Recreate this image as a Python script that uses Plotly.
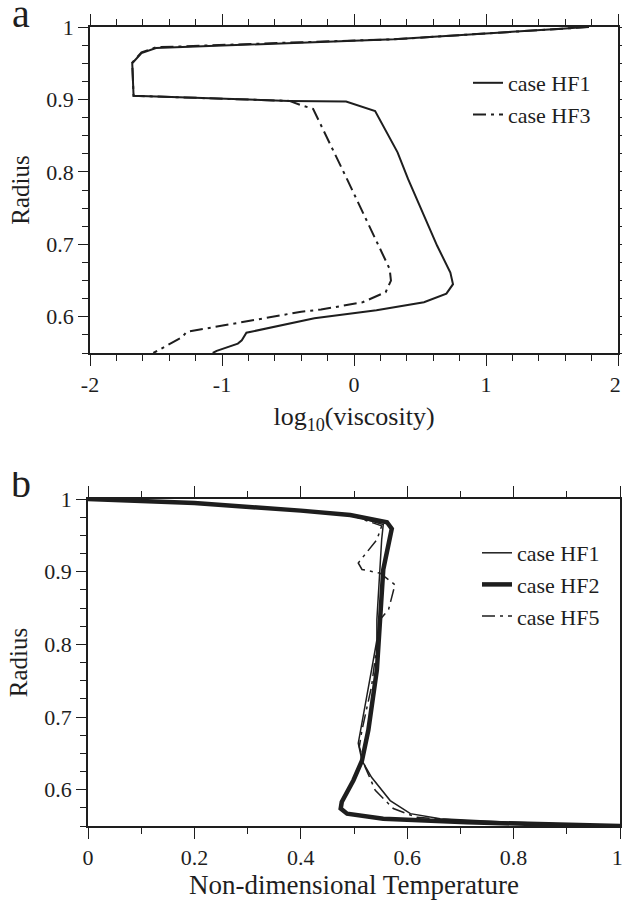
import plotly.graph_objects as go

# ---- panel a data: log10(viscosity) vs radius ----
a_hf1_visc = [1.76, 1.60, 0.30, -0.40, -1.50, -1.61, -1.68, -1.67, -0.49, -0.06, 0.16, 0.33, 0.41,
              0.63, 0.73, 0.75, 0.70, 0.53, 0.17, -0.30, -0.815, -0.85, -0.88, -1.04, -1.07]
a_hf1_rad = [1.000, 0.998, 0.983, 0.978, 0.971, 0.964, 0.950, 0.905, 0.898, 0.897, 0.884, 0.827, 0.790,
             0.698, 0.661, 0.645, 0.632, 0.620, 0.609, 0.598, 0.578, 0.5675, 0.563, 0.553, 0.550]

a_hf3_visc = [1.78, 1.60, 0.30, -0.40, -1.50, -1.61, -1.68, -1.67, -0.49, -0.40, -0.31, -0.05, 0.27,
              0.28, 0.24, 0.065, -0.25, -0.40, -1.27, -1.30, -1.48, -1.52]
a_hf3_rad = [1.000, 0.998, 0.983, 0.979, 0.972, 0.965, 0.951, 0.905, 0.898, 0.892, 0.887, 0.789, 0.666,
             0.650, 0.634, 0.620, 0.610, 0.607, 0.579, 0.572, 0.554, 0.550]

# ---- panel b data: non-dimensional temperature vs radius ----
b_hf1_temp = [0.0, 0.2, 0.4, 0.493, 0.555, 0.552, 0.543, 0.543, 0.533, 0.518, 0.508, 0.515, 0.533,
              0.568, 0.606, 0.662, 0.80, 1.0]
b_hf1_rad = [1.0, 0.9945, 0.984, 0.978, 0.965, 0.944, 0.834, 0.806, 0.765, 0.705, 0.664, 0.640, 0.617,
             0.585, 0.567, 0.560, 0.555, 0.550]

b_hf2_temp = [0.0, 0.2, 0.4, 0.493, 0.562, 0.571, 0.555, 0.549, 0.547, 0.543, 0.527, 0.515, 0.499,
              0.477, 0.475, 0.487, 0.555, 0.712, 1.0]
b_hf2_rad = [1.0, 0.9945, 0.984, 0.978, 0.968, 0.959, 0.903, 0.834, 0.806, 0.765, 0.682, 0.640, 0.613,
             0.583, 0.574, 0.567, 0.560, 0.555, 0.550]

b_hf5_temp = [0.0, 0.2, 0.4, 0.493, 0.552, 0.543, 0.508, 0.515, 0.549, 0.577, 0.565, 0.549, 0.533,
              0.515, 0.510, 0.521, 0.540, 0.574, 0.618, 0.75, 1.0]
b_hf5_rad = [1.0, 0.9945, 0.984, 0.978, 0.963, 0.944, 0.912, 0.903, 0.898, 0.882, 0.848, 0.834, 0.742,
             0.682, 0.659, 0.631, 0.599, 0.574, 0.562, 0.555, 0.550]

NB = "\u00a0"
a_xticks = [-2, -1, 0, 1, 2]
a_xtext = ["-2", "-1", "0", "1", "2" + NB]
b_xticks = [0, 0.2, 0.4, 0.6, 0.8, 1.0]
b_xtext = ["0", "0.2", "0.4", "0.6", "0.8", "1" + NB]
r_ticks = [0.6, 0.7, 0.8, 0.9, 1.0]
r_text = ["0.6", "0.7", "0.8", "0.9", "1"]

INK = "#1e1e1e"
SERIF = "Liberation Serif, Times New Roman, DejaVu Serif, serif"
DASHDOT = "13px,5px,3px,5px"

fig = go.Figure()
fig.add_trace(go.Scatter(x=a_hf1_visc, y=a_hf1_rad, mode="lines", name="case HF1",
                         line=dict(color=INK, width=2), xaxis="x", yaxis="y", legend="legend"))
fig.add_trace(go.Scatter(x=a_hf3_visc, y=a_hf3_rad, mode="lines", name="case HF3",
                         line=dict(color=INK, width=2, dash=DASHDOT), xaxis="x", yaxis="y", legend="legend"))
fig.add_trace(go.Scatter(x=b_hf1_temp, y=b_hf1_rad, mode="lines", name="case HF1",
                         line=dict(color=INK, width=1.5), xaxis="x2", yaxis="y2", legend="legend2"))
fig.add_trace(go.Scatter(x=b_hf2_temp, y=b_hf2_rad, mode="lines", name="case HF2",
                         line=dict(color=INK, width=4.5), xaxis="x2", yaxis="y2", legend="legend2"))
fig.add_trace(go.Scatter(x=b_hf5_temp, y=b_hf5_rad, mode="lines", name="case HF5",
                         line=dict(color=INK, width=1.5, dash=DASHDOT), xaxis="x2", yaxis="y2", legend="legend2"))

tickfont = dict(family=SERIF, size=22, color=INK)

def xax(domain, rng, tv, tt, dtick_minor, title, anchor, standoff, tsize):
    return dict(domain=domain, range=rng, anchor=anchor, tickvals=tv, ticktext=tt, automargin=False,
                ticklabeloverflow="allow",
                ticks="outside", ticklen=11, tickwidth=1.3, tickcolor=INK,
                minor=dict(dtick=dtick_minor, ticks="outside", ticklen=6, tickwidth=1.3, tickcolor=INK),
                showline=True, linecolor=INK, linewidth=1.5, mirror="allticks",
                showgrid=False, zeroline=False, tickfont=tickfont,
                title=dict(text=title, font=dict(family=SERIF, size=tsize, color=INK), standoff=standoff))

def yax(domain, anchor, standoff):
    return dict(domain=domain, range=[0.55, 1.0], anchor=anchor, tickvals=r_ticks, ticktext=r_text,
                automargin=False, ticklabeloverflow="allow",
                ticks="outside", ticklen=10, tickwidth=1.3, tickcolor=INK,
                minor=dict(dtick=0.025, tick0=0.55, ticks="outside", ticklen=6, tickwidth=1.3, tickcolor=INK),
                showline=True, linecolor=INK, linewidth=1.5, mirror="allticks",
                showgrid=False, zeroline=False, tickfont=tickfont,
                title=dict(text="Radius", font=dict(family=SERIF, size=25, color=INK), standoff=standoff))

legfont = dict(family=SERIF, size=22, color=INK)

fig.update_layout(
    width=622, height=902, margin=dict(l=0, r=0, t=0, b=0),
    paper_bgcolor="white", plot_bgcolor="white",
    xaxis=xax([90/622, 618/622], [-2, 2], a_xticks, a_xtext, 0.2, "log<sub>10</sub>(viscosity)", "y", 11, 26),
    yaxis=yax([(902-353)/902, (902-27)/902], "x", 10),
    xaxis2=xax([88/622, 620/622], [0, 1], b_xticks, b_xtext, 0.1, "Non-dimensional Temperature", "y2", 1, 27),
    yaxis2=yax([(902-826)/902, (902-499)/902], "x2", 10),
    legend=dict(x=468/622, y=(902-62)/902, xanchor="left", yanchor="top", font=legfont,
                bgcolor="rgba(0,0,0,0)", borderwidth=0, itemwidth=30),
    legend2=dict(x=477/622, y=(902-532)/902, xanchor="left", yanchor="top", font=legfont,
                 bgcolor="rgba(0,0,0,0)", borderwidth=0, itemwidth=30),
    annotations=[
        dict(text="a", x=10/622, y=1.0, xref="paper", yref="paper", xanchor="left", yanchor="top",
             height=34, valign="bottom",
             showarrow=False, font=dict(family=SERIF, size=40, color=INK)),
        dict(text="b", x=9/622, y=(902-470)/902, xref="paper", yref="paper", xanchor="left", yanchor="top",
             height=34, valign="bottom",
             showarrow=False, font=dict(family=SERIF, size=40, color=INK)),
    ],
)

fig.write_html("out.html", config={"displayModeBar": False},
               post_script="document.body.style.margin='0';document.body.style.overflow='hidden';")
